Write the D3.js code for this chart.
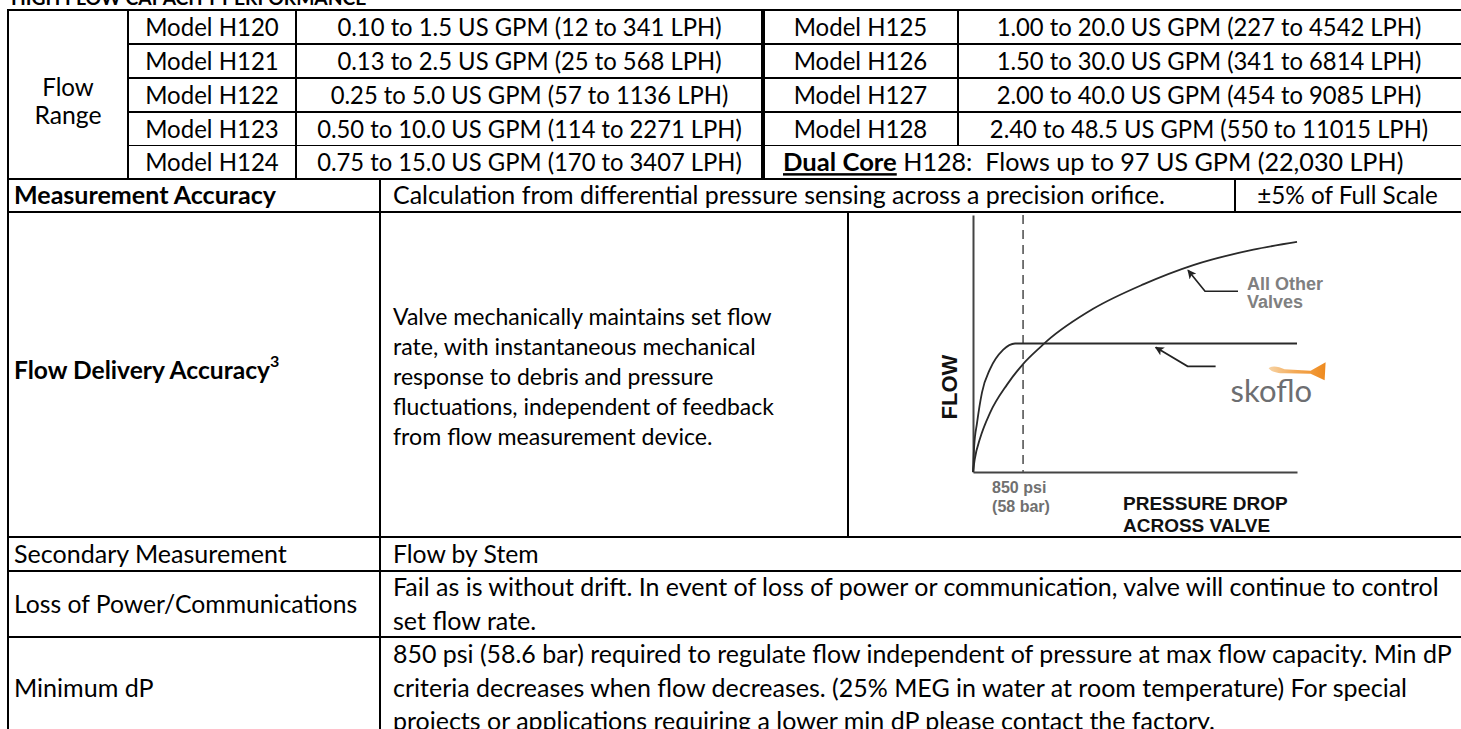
<!DOCTYPE html>
<html><head><meta charset="utf-8">
<script src="https://cdn.jsdelivr.net/npm/d3@7"></script>
<style>html,body{margin:0;padding:0;background:#fff;overflow:hidden}</style>
</head><body>
<svg id="c" width="1461" height="729"></svg>
<script>
// ---------- table data ----------
const title = "HIGH FLOW CAPACITY PERFORMANCE";
const flowRangeLabel = ["Flow", "Range"];
const modelsLeft = ["Model H120","Model H121","Model H122","Model H123","Model H124"];
const rangesLeft = ["0.10 to 1.5 US GPM (12 to 341 LPH)","0.13 to 2.5 US GPM (25 to 568 LPH)","0.25 to 5.0 US GPM (57 to 1136 LPH)","0.50 to 10.0 US GPM (114 to 2271 LPH)","0.75 to 15.0 US GPM (170 to 3407 LPH)"];
const modelsRight = ["Model H125","Model H126","Model H127","Model H128"];
const rangesRight = ["1.00 to 20.0 US GPM (227 to 4542 LPH)","1.50 to 30.0 US GPM (341 to 6814 LPH)","2.00 to 40.0 US GPM (454 to 9085 LPH)","2.40 to 48.5 US GPM (550 to 11015 LPH)"];
const dualCore = ["Dual Core", " H128:  Flows up to 97 US GPM (22,030 LPH)"];
const accuracyLabel = "Measurement Accuracy";
const accuracyText = "Calculation from differential pressure sensing across a precision orifice.";
const accuracyValue = "\u00B15% of Full Scale";
const deliveryLabel = ["Flow Delivery Accuracy", "3"];
const deliveryText = ["Valve mechanically maintains set flow","rate, with instantaneous mechanical","response to debris and pressure","fluctuations, independent of feedback","from flow measurement device."];
const lowerLabels = ["Secondary Measurement","Loss of Power/Communications","Minimum dP"];
const lowerTexts = [
  ["Flow by Stem"],
  ["Fail as is without drift. In event of loss of power or communication, valve will continue to control","set flow rate."],
  ["850 psi (58.6 bar) required to regulate flow independent of pressure at max flow capacity. Min dP","criteria decreases when flow decreases. (25% MEG in water at room temperature) For special","projects or applications requiring a lower min dP please contact the factory."]
];

// ---------- chart data (pressure drop psi, flow % of set flow) ----------
const skofloCurve = [[0,0],[20,20],[68,38],[153,62],[289,80],[510,95],[714,100],[5500,100]];
const otherValvesCurve = [[0,0],[30,10],[119,26],[289,46],[578,68],[850,84],[1139,97],[1258,102],[2040,127],[2890,146],[3740,161],[4760,173],[5500,179]];
const minPressure = 850;
const pressureLabel = ["850 psi", "(58 bar)"];
const xTitle = ["PRESSURE DROP", "ACROSS VALVE"];
const yTitle = "FLOW";
const otherLabel = ["All Other", "Valves"];
const brand = "skoflo";
const otherArrowTip = [3650, 157];
const skofloArrowTip = [3100, 97];

// ---------- drawing ----------
const svg = d3.select("#c");
svg.append("rect").attr("width",1461).attr("height",729).attr("fill","#fff");

const FF = "Lato, 'Open Sans', sans-serif";
const AF = "'Liberation Sans', Arial, sans-serif";
const CAL = 26.7; // size of the original document font
// approximate advance widths (per 1000 em) of the document font
const WR = {" ":226,"(":303,")":303,",":250,"-":306,".":252,"/":386,":":268,"%":715,"\u00B1":498,
 A:579,B:544,C:533,D:615,E:488,F:459,G:631,H:623,I:252,L:420,M:855,N:646,O:662,P:517,R:543,S:459,T:487,U:653,V:567,W:890,
 a:479,b:525,c:423,d:525,e:498,f:305,g:471,h:525,i:229,j:239,k:455,l:229,m:799,n:525,o:527,p:525,q:525,r:349,s:391,t:335,u:525,v:452,w:715,x:433,y:453,z:395};
const WB = {" ":226,A:606,C:529,D:630,F:459,M:874,a:494,c:418,e:503,i:246,l:246,m:813,n:537,o:538,r:355,s:399,t:347,u:537,v:473,w:745,y:474};
function calW(s, bold, size){
  let w=0; for(const ch of s){ if(/[0-9]/.test(ch)) w+=507; else w += (bold&&WB[ch]!==undefined)?WB[ch]:(WR[ch]!==undefined?WR[ch]:500); }
  return w*(size||CAL)/1000;
}
function fit(family, weight, str, target){
  const t = svg.append("text").attr("font-family",family).attr("font-weight",weight).attr("font-size",100).text(str);
  const w = t.node().getComputedTextLength(); t.remove(); return 100*target/w;
}
const FS = fit(FF, 400, "Loss of Power/Communications", calW("Loss of Power/Communications"));

const T = svg.append("g").attr("font-family", FF).attr("font-size", FS).attr("fill", "#000");
function txt(x, y, s, anchor, bold, scale){
  const k = scale||1;
  const t = T.append("text").attr("x",x).attr("y",y).attr("dy","0.36em")
    .attr("text-anchor",anchor||"start").attr("font-weight",bold?700:400);
  if (k!==1) t.attr("font-size", FS*k);
  if (s) t.text(s).attr("textLength", calW(s,bold,CAL*k)).attr("lengthAdjust","spacingAndGlyphs");
  return t;
}

// title (clipped at top)
svg.append("text").attr("x",11).attr("y",5).attr("font-family",FF).attr("font-weight",700)
  .attr("font-size",FS*0.78).text(title);

// geometry
const X0=8, XM=128, XG=296, XT=763, XM2=958, XR=1470, XRC=1460, XL=380, XP=1235, XC=848, PADL=14, PADD=393;
const rowY = [10,44,78,112,145.5,179];
const yMA=[179,212], yCh=[212,537], yLow=[537,571,637,742];

// flow range block
txt((X0+XM)/2, 87, flowRangeLabel[0], "middle");
txt((X0+XM)/2, 115, flowRangeLabel[1], "middle");
modelsLeft.forEach((m,i)=>{
  const cy=(rowY[i]+rowY[i+1])/2;
  txt((XM+XG)/2, cy, m, "middle");
  txt((XG+XT)/2, cy, rangesLeft[i], "middle");
});
modelsRight.forEach((m,i)=>{
  const cy=(rowY[i]+rowY[i+1])/2;
  txt((XT+XM2)/2, cy, m, "middle");
  txt((XM2+XRC)/2, cy, rangesRight[i], "middle");
});
{
  const t = txt(XT+20, (rowY[4]+rowY[5])/2, "", "start");
  t.append("tspan").attr("font-weight",700).style("text-decoration","underline")
    .attr("textLength",calW(dualCore[0],true)*1.05).attr("lengthAdjust","spacingAndGlyphs").text(dualCore[0]);
  t.append("tspan").style("white-space","pre")
    .attr("textLength",calW(dualCore[1])*1.055).attr("lengthAdjust","spacingAndGlyphs").text(dualCore[1]);
}
// measurement accuracy row
txt(PADL, (yMA[0]+yMA[1])/2, accuracyLabel, "start", true);
txt(PADD, (yMA[0]+yMA[1])/2, accuracyText);
txt((XP+XRC)/2, (yMA[0]+yMA[1])/2, accuracyValue, "middle");
// delivery row
{
  const cy=(yCh[0]+yCh[1])/2;
  const t = txt(PADL, cy - 4, "", "start", true);
  t.append("tspan").attr("textLength",calW(deliveryLabel[0],true)).attr("lengthAdjust","spacingAndGlyphs").text(deliveryLabel[0]);
  t.append("tspan").attr("font-size",FS*0.65).attr("dy","-0.75em").text(deliveryLabel[1]);
  const k = 0.92, lh = 30;
  deliveryText.forEach((s,i)=> txt(PADD, cy + 2 + (i-(deliveryText.length-1)/2)*lh, s, "start", false, k));
}
// lower rows
lowerLabels.forEach((l,i)=>{
  const top=yLow[i], bot=yLow[i+1];
  const lines = lowerTexts[i];
  const lh = 33.5;
  const cy = i===2 ? 688 : (top+bot)/2;
  txt(PADL, cy, l);
  lines.forEach((s,j)=> txt(PADD, cy + (j-(lines.length-1)/2)*lh, s));
});

// grid lines
const G = svg.append("g").attr("stroke","#000").attr("shape-rendering","crispEdges");
function hl(x1,x2,y,w){G.append("line").attr("x1",x1).attr("x2",x2).attr("y1",y).attr("y2",y).attr("stroke-width",w);}
function vl(x,y1,y2,w){G.append("line").attr("x1",x).attr("x2",x).attr("y1",y1).attr("y2",y2).attr("stroke-width",w);}
hl(X0-1,XR,rowY[0],2);
rowY.slice(1,5).forEach(y=>hl(XM,XR,y,1.7));
hl(X0-1,XR,rowY[5],2.2);
hl(X0-1,XR,yMA[1],2.2);
hl(X0-1,XR,yCh[1],2.2);
hl(X0-1,XR,yLow[1],2);
hl(X0-1,XR,yLow[2],2);
vl(X0,rowY[0],729,2.2);
vl(XM,rowY[0],rowY[5],1.5);
vl(XG,rowY[0],rowY[5],1.5);
vl(XT,rowY[0],rowY[5],3.5);
vl(XM2,rowY[0],rowY[4],1.5);
vl(XL,rowY[5],729,2);
vl(XP,yMA[0],yMA[1],1.5);
vl(XC,yCh[0],yCh[1],2);

// ---------- chart ----------
const x = d3.scaleLinear().domain([0,5500]).range([973,1297]);
const y = d3.scaleLinear().domain([0,200]).range([472,215]);
const C = svg.append("g");

C.append("g").attr("transform",`translate(0,${y(0)})`)
  .call(d3.axisBottom(x).tickValues([]).tickSizeOuter(0))
  .call(g=>g.select(".domain").attr("stroke","#444").attr("stroke-width",2));
C.append("g").attr("transform",`translate(${x(0)},0)`)
  .call(d3.axisLeft(y).tickValues([]).tickSizeOuter(0))
  .call(g=>g.select(".domain").attr("stroke","#444").attr("stroke-width",2));

C.append("line").attr("x1",x(minPressure)).attr("x2",x(minPressure))
  .attr("y1",y(200)).attr("y2",y(0)).attr("stroke","#555").attr("stroke-width",1.6)
  .attr("stroke-dasharray","9,6");

const line = d3.line().x(d=>x(d[0])).y(d=>y(d[1])).curve(d3.curveMonotoneX);
C.append("path").attr("d",line(otherValvesCurve)).attr("fill","none").attr("stroke","#2a2a2a").attr("stroke-width",1.8);
C.append("path").attr("d",line(skofloCurve)).attr("fill","none").attr("stroke","#2a2a2a").attr("stroke-width",1.8);

// arrows
const defs = svg.append("defs");
defs.append("marker").attr("id","ah").attr("viewBox","0 0 10 10").attr("refX",9).attr("refY",5)
  .attr("markerWidth",9).attr("markerHeight",9).attr("markerUnits","userSpaceOnUse").attr("orient","auto")
  .append("path").attr("d","M0,0 L10,5 L0,10 L2.5,5 z").attr("fill","#222");
function arrow(tip, dxE, dyE, dxT){
  const tx=x(tip[0]), ty=y(tip[1]);
  C.append("polyline").attr("points",`${tx+dxT},${ty+dyE} ${tx+dxE},${ty+dyE} ${tx},${ty}`)
    .attr("fill","none").attr("stroke","#222").attr("stroke-width",1.7).attr("marker-end","url(#ah)");
  return [tx,ty];
}
const oa = arrow(otherArrowTip, 17, 21, 50);
const sa = arrow(skofloArrowTip, 32, 19, 60);

// labels
const L = C.append("g").attr("font-family",AF).attr("font-weight",700);
L.append("text").attr("x",oa[0]+59).attr("y",oa[1]+20).attr("font-size",18).attr("fill","#808080").text(otherLabel[0]);
L.append("text").attr("x",oa[0]+59).attr("y",oa[1]+38).attr("font-size",18).attr("fill","#808080").text(otherLabel[1]);
L.append("text").attr("x",x(minPressure)-31).attr("y",y(0)+21).attr("font-size",16).attr("fill","#707070").text(pressureLabel[0]);
L.append("text").attr("x",x(minPressure)-31).attr("y",y(0)+40).attr("font-size",16).attr("fill","#707070").text(pressureLabel[1]);
L.append("text").attr("x",1123).attr("y",y(0)+38).attr("font-size",19).attr("fill","#111").text(xTitle[0]);
L.append("text").attr("x",1123).attr("y",y(0)+60).attr("font-size",19).attr("fill","#111").text(xTitle[1]);
L.append("text").attr("transform",`translate(${x(0)-16},${387}) rotate(-90)`)
  .attr("text-anchor","middle").attr("font-size",22).attr("fill","#111").text(yTitle);

// skoflo logo
const lx = sa[0]+75, ly = sa[1]+55;
C.append("text").attr("x",lx).attr("y",ly).attr("font-family","Lato, 'Open Sans', sans-serif")
  .attr("font-size",31).attr("fill","#6d6e71").text(brand);
const grad = defs.append("linearGradient").attr("id","og").attr("x1","0").attr("x2","1");
grad.append("stop").attr("offset","0").attr("stop-color","#f7d3a4");
grad.append("stop").attr("offset","0.45").attr("stop-color","#f3aa58");
grad.append("stop").attr("offset","1").attr("stop-color","#ee8a1e");
const ox = lx+38, oy = ly-40;
C.append("path").attr("fill","url(#og)")
  .attr("d",`M${ox},${oy+6} C${ox+3},${oy+3} ${ox+10},${oy+4} ${ox+16},${oy+7} L${ox+42},${oy+8.5} L${ox+57},${oy} L${ox+56},${oy+18} L${ox+42},${oy+11.5} L${ox+16},${oy+11} C${ox+10},${oy+11} ${ox+3},${oy+10} ${ox},${oy+6} Z`);
</script>
</body></html>
